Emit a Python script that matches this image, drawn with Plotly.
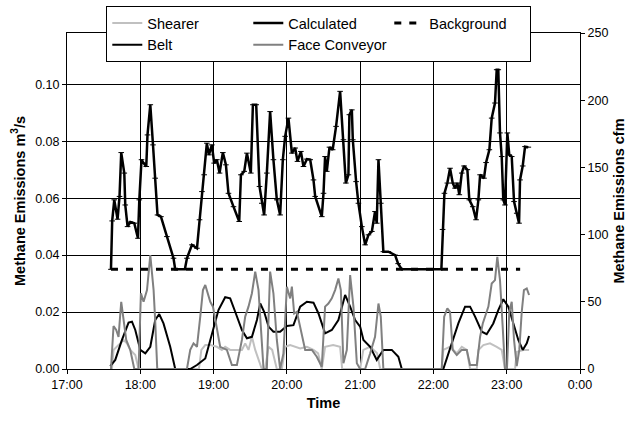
import plotly.graph_objects as go
import pandas as pd

# ---- data (time = minutes after 17:00, values in m^3/s) ----
calc_t = [36, 37, 38.7, 41.4, 43.0, 44.4, 46.9, 47.7, 49.6, 51.8,
          55.1, 58.1, 59.2, 61.0, 62.7, 64.9, 65.9, 68.2, 70.4, 72.2,
          74.1, 76.9, 81.8, 87.2, 88.6, 96.5, 98.2, 102.3, 106.4, 108.5,
          110.5, 112.3, 114.5, 116.2, 118.6, 120.5, 122.7, 124.9, 127.6, 130.1,
          132.2, 136.3, 141.0, 142.4, 145.1, 147.3, 150.5, 152.2, 154.9, 157.6,
          159.5, 161.4, 163.6, 166.3, 169.0, 171.8, 174.5, 176.7, 178.6, 181.3,
          184.1, 186.8, 188.7, 191.5, 193.6, 196.4, 199.1, 201.8, 203.2, 208.6,
          210.0, 211.3, 212.7, 214.9, 217.5, 220.3, 223.6, 226.3, 228.3, 230.4,
          231.2, 233.2, 234.0, 236.7, 238.6, 241.4, 244.1, 246.8, 249.6, 252.2,
          253.6, 255.0, 256.9, 259.0, 263.1, 268.6, 271.1, 274.1, 306.5, 307.5,
          309.0, 311.4, 313.6, 315.8, 317.7, 319.6, 321.2, 323.2, 325.1, 327.8,
          329.4, 332.2, 334.9, 336.8, 338.2, 341.4, 343.1, 345.8, 347.7, 350.4,
          351.8, 353.1, 354.5, 355.9, 357.2, 358.6, 360.5, 362.1, 364.1, 366.0,
          368.2, 370.1, 370.9, 373.1, 375.0, 377.7]
calc_v = [0.035, 0.052, 0.0594, 0.0526, 0.0606, 0.076, 0.0688, 0.0576, 0.050, 0.0516,
          0.0512, 0.0459, 0.0594, 0.0735, 0.0723, 0.0711, 0.0822, 0.0928, 0.0787, 0.067,
          0.0541, 0.0535, 0.0465, 0.0389, 0.035, 0.035, 0.0389, 0.0436, 0.0424, 0.0524,
          0.0623, 0.0682, 0.0793, 0.0752, 0.0787, 0.0723, 0.0735, 0.0688, 0.076, 0.0717,
          0.0617, 0.057, 0.0518, 0.0682, 0.0694, 0.0758, 0.0688, 0.0928, 0.0928, 0.0641,
          0.0582, 0.0541, 0.0688, 0.0904, 0.0735, 0.0594, 0.0541, 0.0735, 0.0817, 0.0881,
          0.0758, 0.0776, 0.0729, 0.0764, 0.0711, 0.0737, 0.0735, 0.0664, 0.0606, 0.0535,
          0.0617, 0.0746, 0.0694, 0.0779, 0.077, 0.0852, 0.0975, 0.0805, 0.0653, 0.0682,
          0.0893, 0.091, 0.0805, 0.0658, 0.0582, 0.050, 0.0436, 0.0471, 0.0483, 0.0553,
          0.0512, 0.0735, 0.0582, 0.0412, 0.0412, 0.040, 0.037, 0.035, 0.035, 0.049,
          0.0617, 0.0653, 0.0705, 0.0653, 0.0635, 0.0653, 0.0612, 0.0688, 0.0713, 0.070,
          0.0594, 0.057, 0.0524, 0.0594, 0.0682, 0.067, 0.0725, 0.077, 0.0881, 0.0934,
          0.1051, 0.1051, 0.0829, 0.0746, 0.0594, 0.0576, 0.0829, 0.0752, 0.0746, 0.0588,
          0.0547, 0.0512, 0.0664, 0.0713, 0.0781, 0.0779]

belt_t = [35.4, 39.5, 45.0, 50.4, 53.2, 55.9, 60.0, 64.1, 68.2, 72.2,
          75.5, 79.0, 84.5, 88.6, 100.9, 106.4, 113.2, 118.6, 124.0, 129.5,
          133.6, 137.7, 143.2, 147.3, 151.4, 155.5, 158.2, 161.4, 165.0, 169.0,
          174.5, 180.0, 185.4, 190.9, 196.4, 201.8, 205.9, 211.3, 216.8, 222.2,
          227.7, 231.8, 235.9, 240.0, 242.7, 248.2, 253.6, 259.0, 265.9, 271.3,
          274.1, 308.1, 315.0, 320.4, 325.9, 330.0, 334.1, 339.6, 343.6, 349.0,
          353.1, 357.2, 361.3, 365.4, 369.5, 373.1, 376.4, 378.3]
belt_v = [0.001, 0.0032, 0.0102, 0.0163, 0.0166, 0.0137, 0.0067, 0.0055, 0.0078, 0.0172,
          0.0193, 0.016, 0.0078, 0.0, 0.0, 0.0014, 0.0037, 0.0125, 0.0207, 0.0252,
          0.0248, 0.0201, 0.0137, 0.0108, 0.0113, 0.0172, 0.023, 0.0201, 0.0149, 0.0131,
          0.0131, 0.0151, 0.0154, 0.0219, 0.0236, 0.0233, 0.0195, 0.0125, 0.0137, 0.0172,
          0.026, 0.0219, 0.0172, 0.0149, 0.0102, 0.0078, 0.0032, 0.0067, 0.0067, 0.0043,
          0.0, 0.0, 0.009, 0.016, 0.0219, 0.0219, 0.0184, 0.0131, 0.0122, 0.016,
          0.0207, 0.0245, 0.0219, 0.016, 0.0102, 0.0067, 0.009, 0.0116]

face_t = [36.0, 38.1, 40.3, 42.2, 44.4, 46.3, 48.5, 51.8, 55.1, 58.6,
          60.5, 62.7, 65.5, 68.2, 70.9, 72.2, 73.9, 98.2, 100.9, 103.6,
          106.4, 109.1, 111.3, 113.2, 115.1, 117.3, 119.5, 122.2, 125.4, 130.9,
          135.0, 139.1, 143.2, 145.9, 148.6, 151.4, 154.1, 156.8, 159.5, 160.9,
          163.6, 166.3, 169.0, 171.8, 174.5, 177.2, 180.0, 182.7, 184.1, 186.0,
          188.2, 190.9, 195.0, 200.5, 204.5, 208.6, 211.3, 214.0, 216.8, 219.5,
          222.2, 224.2, 226.3, 229.1, 231.8, 234.5, 237.3, 240.0, 244.1, 248.2,
          252.2, 255.0, 256.9, 259.0, 306.8, 308.8, 311.4, 313.6, 315.8, 319.1,
          323.2, 327.3, 330.0, 335.5, 338.2, 340.4, 342.3, 345.0, 347.7, 350.4,
          352.3, 354.5, 356.7, 358.6, 360.2, 362.1, 364.1, 366.0, 368.2, 370.3,
          372.3, 374.1, 376.4, 378.3]
face_v = [0.0, 0.0151, 0.0137, 0.0113, 0.0236, 0.0172, 0.0102, 0.0067, 0.0, 0.0,
          0.0266, 0.0236, 0.0277, 0.040, 0.0277, 0.017, 0.0, 0.0, 0.0067, 0.009,
          0.0078, 0.0184, 0.0277, 0.0295, 0.0266, 0.0236, 0.0219, 0.016, 0.0078, 0.0067,
          0.0014, 0.0014, 0.0102, 0.0184, 0.0219, 0.0266, 0.0342, 0.0277, 0.0067, 0.0,
          0.0, 0.0342, 0.0266, 0.0102, 0.0, 0.0055, 0.0289, 0.0248, 0.0289, 0.0195,
          0.0201, 0.0149, 0.0067, 0.0067, 0.0043, 0.0008, 0.0219, 0.023, 0.0248, 0.0277,
          0.0318, 0.0277, 0.002, 0.0067, 0.033, 0.0219, 0.002, 0.0, 0.0, 0.0055,
          0.0113, 0.023, 0.0184, 0.0, 0.0, 0.0184, 0.0213, 0.0201, 0.0067, 0.0049,
          0.0067, 0.0067, 0.0014, 0.0014, 0.0113, 0.016, 0.0184, 0.0219, 0.030, 0.0312,
          0.0394, 0.0312, 0.0149, 0.0, 0.0, 0.0201, 0.0236, 0.0102, 0.001, 0.0067,
          0.0201, 0.0277, 0.0283, 0.026]

shear_t = [36.8, 38.1, 42.2, 46.3, 49.1, 51.8, 55.9, 58.6, 108.0, 110.0,
           113.2, 117.3, 122.7, 126.8, 129.5, 133.6, 143.2, 145.9, 148.6, 151.4,
           154.1, 156.8, 159.5, 162.2, 165.0, 168.0, 171.8, 175.9, 178.6, 182.7,
           186.8, 190.9, 196.4, 201.8, 205.6, 208.6, 211.3, 217.9, 223.6, 225.3,
           240.0, 242.6, 248.2, 253.9, 256.4, 306.8, 308.1, 313.6, 319.1, 323.2,
           327.3, 330.0, 335.5, 336.8, 340.9, 346.3, 351.8, 355.9, 358.6, 366.8,
           368.2, 373.6, 378.3]
shear_v = [0.0, 0.0067, 0.0084, 0.0102, 0.009, 0.0067, 0.0049, 0.0, 0.0, 0.0067,
           0.0084, 0.0084, 0.0078, 0.0067, 0.0078, 0.0067, 0.0067, 0.009, 0.0067, 0.0113,
           0.0067, 0.0032, 0.0, 0.0, 0.0078, 0.0067, 0.0, 0.0, 0.0078, 0.0084,
           0.0078, 0.0072, 0.0078, 0.0067, 0.0055, 0.0, 0.0078, 0.0084, 0.0078, 0.0,
           0.0, 0.0067, 0.0078, 0.0055, 0.0, 0.0, 0.0067, 0.0078, 0.0055, 0.0078,
           0.0067, 0.0, 0.0, 0.0067, 0.0084, 0.009, 0.0078, 0.0067, 0.0, 0.0,
           0.006, 0.0067, 0.0067]

bg_t = [36, 60, 120, 180, 240, 300, 360, 371]
bg_v = [0.035, 0.035, 0.035, 0.035, 0.035, 0.035, 0.035, 0.035]

x_start = "2000-01-01 17:00"
x_end = "2000-01-02 00:00"
left_range = [0, 0.11799]   # 0..250 cfm expressed in m3/s
right_range = [0, 250]

BASE = pd.Timestamp(x_start)


def tt(mins):
    return [BASE + pd.Timedelta(minutes=m) for m in mins]


FONT = "Liberation Sans, Arial, sans-serif"

fig = go.Figure()
fig.add_trace(go.Scatter(x=tt(shear_t), y=shear_v, name="Shearer", mode="lines",
                         line=dict(color="#c0c0c0", width=2), legendrank=1))
fig.add_trace(go.Scatter(x=tt(belt_t), y=belt_v, name="Belt", mode="lines",
                         line=dict(color="black", width=2), legendrank=4))
fig.add_trace(go.Scatter(x=tt(face_t), y=face_v, name="Face Conveyor", mode="lines",
                         line=dict(color="#808080", width=2), legendrank=5))
fig.add_trace(go.Scatter(x=tt(bg_t), y=bg_v, name="Background", mode="lines",
                         line=dict(color="black", width=3, dash="7px,8px"), legendrank=3))
fig.add_trace(go.Scatter(x=tt(calc_t), y=calc_v, name="Calculated", mode="lines+markers",
                         line=dict(color="black", width=2.5),
                         marker=dict(symbol="line-ew-open", size=4, color="black",
                                     line=dict(width=1, color="black")),
                         legendrank=2))
fig.add_trace(go.Scatter(x=[], y=[], yaxis="y2", showlegend=False, hoverinfo="skip"))

fig.update_layout(
    width=629, height=421,
    margin=dict(l=67, r=49, t=33, b=52, autoexpand=False),
    paper_bgcolor="white", plot_bgcolor="white",
    font=dict(family=FONT, size=12.5, color="black"),
    showlegend=True,
    legend=dict(orientation="h", x=0.0766, xanchor="left", y=1.0804, yanchor="top",
                bgcolor="white", bordercolor="black", borderwidth=1,
                font=dict(family=FONT, size=14.5, color="black"),
                entrywidth=96, traceorder="normal"),
    xaxis=dict(type="date", range=[x_start, x_end], dtick=3600000, tickformat="%-H:%M",
               showgrid=True, gridcolor="black", gridwidth=1,
               showline=True, linecolor="black", linewidth=1, mirror=True,
               ticks="outside", ticklen=4, tickcolor="black", zeroline=False,
               tickfont=dict(size=12.5),
               title=dict(text="<b>Time</b>", font=dict(size=14.5), standoff=6)),
    yaxis=dict(range=left_range, dtick=0.02, tickformat=".2f",
               showgrid=True, gridcolor="black", gridwidth=1,
               showline=True, linecolor="black", linewidth=1,
               ticks="outside", ticklen=4, tickcolor="black", zeroline=False,
               tickfont=dict(size=12.5),
               title=dict(text="<b>Methane Emissions m<sup>3</sup>/s</b>",
                          font=dict(size=14.5), standoff=6)),
    yaxis2=dict(range=right_range, dtick=50, overlaying="y", side="right",
                showgrid=False, showline=True, linecolor="black", linewidth=1,
                ticks="outside", ticklen=4, tickcolor="black", zeroline=False,
                tickfont=dict(size=12.5),
                title=dict(text="<b>Methane Emissions cfm</b>",
                           font=dict(size=14.5), standoff=6)),
)

fig.write_html("out.html")
